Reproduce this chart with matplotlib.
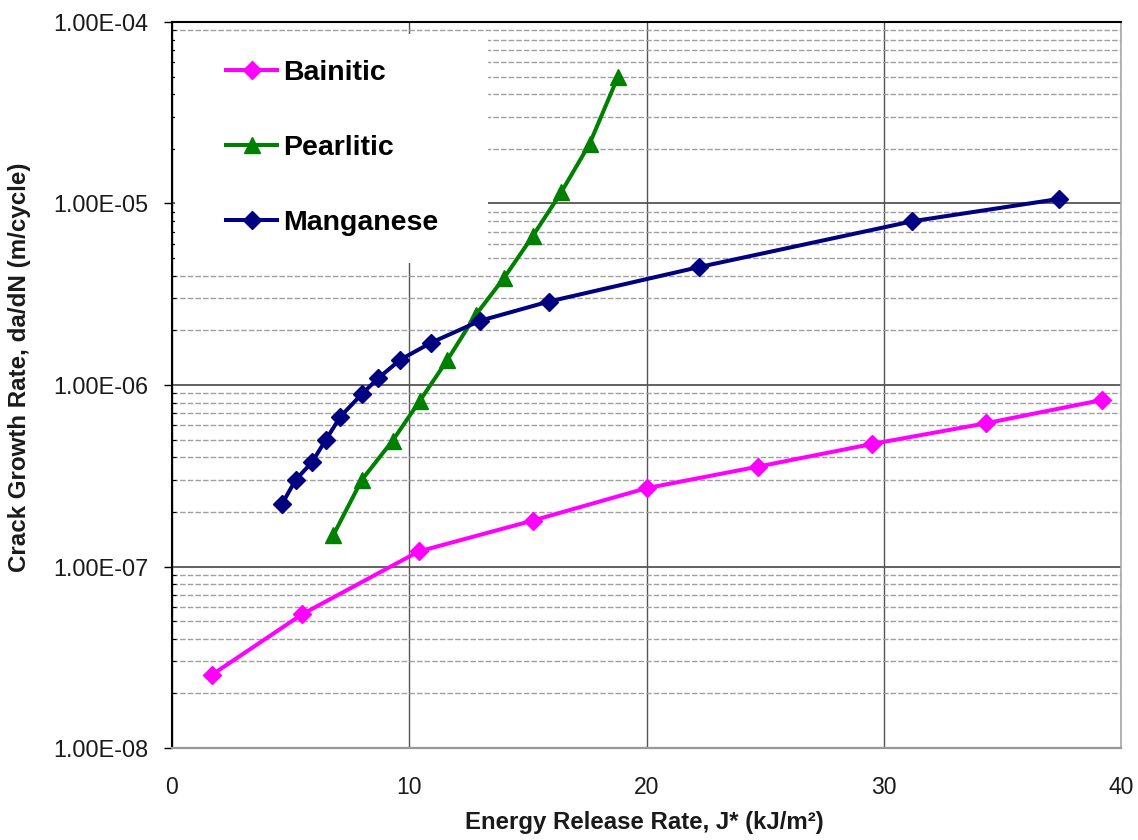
import matplotlib
matplotlib.use("Agg")
import matplotlib.pyplot as plt
from matplotlib.ticker import LogLocator, FuncFormatter, FixedLocator, NullFormatter
from matplotlib.patches import Rectangle

plt.rcParams['font.family'] = ['Liberation Sans', 'DejaVu Sans']

# Energy release rate J* (kJ/m^2) and crack growth rate da/dN (m/cycle)
bainitic_j = [1.7, 5.5, 10.4, 15.2, 20.0, 24.7, 29.5, 34.3, 39.2]
bainitic_rate = [2.54e-8, 5.47e-8, 1.21e-7, 1.79e-7, 2.70e-7, 3.55e-7, 4.73e-7, 6.15e-7, 8.27e-7]

pearlitic_j = [6.8, 8.0, 9.3, 10.45, 11.6, 12.8, 14.0, 15.2, 16.4, 17.6, 18.8]
pearlitic_rate = [1.49e-7, 3.0e-7, 4.94e-7, 8.2e-7, 1.37e-6, 2.43e-6, 3.9e-6,
                  6.6e-6, 1.15e-5, 2.13e-5, 5.0e-5]

manganese_j = [4.63, 5.21, 5.90, 6.48, 7.10, 7.99, 8.69, 9.63, 10.92, 12.99, 15.87,
               22.2, 31.2, 37.4]
manganese_rate = [2.20e-7, 3.00e-7, 3.75e-7, 4.98e-7, 6.70e-7, 8.88e-7, 1.09e-6,
                  1.38e-6, 1.71e-6, 2.26e-6, 2.88e-6, 4.46e-6, 7.98e-6, 1.06e-5]

x_ticks = [0, 10, 20, 30, 40]
x_label = "Energy Release Rate, J* (kJ/m²)"
y_label = "Crack Growth Rate, da/dN (m/cycle)"

W, H = 1138, 840
fig = plt.figure(figsize=(W / 100, H / 100), dpi=100)
ax = fig.add_axes([172 / W, 1 - 748 / H, 949 / W, 726 / H])
ax.set_yscale('log')
ax.set_xlim(0, 40)
ax.set_ylim(1e-8, 1e-4)

ax.yaxis.set_major_locator(LogLocator(base=10, numticks=10))
ax.yaxis.set_minor_locator(LogLocator(base=10, subs=range(2, 10), numticks=50))
ax.yaxis.set_major_formatter(FuncFormatter(lambda v, p: f"{v:.2E}"))
ax.yaxis.set_minor_formatter(NullFormatter())
ax.xaxis.set_major_locator(FixedLocator(x_ticks))

ax.set_axisbelow(True)
ax.grid(which='major', axis='y', color='#555555', lw=1.3)
ax.grid(which='minor', axis='y', color='#a0a0a0', lw=1.0, ls=(0, (4, 1.5)))
ax.grid(which='major', axis='x', color='#555555', lw=1.0)

ax.tick_params(axis='y', which='major', direction='out', length=5.8, width=1.0,
               pad=11.5, labelsize=16.8, labelcolor='#1a1a1a')
ax.tick_params(axis='y', which='minor', direction='in', length=3, width=0.8)
ax.tick_params(axis='x', which='major', length=0, pad=20, labelsize=16.5,
               labelcolor='#1a1a1a')

for side, col, lw in [('left', 'black', 1.5), ('top', 'black', 1.5),
                      ('right', '#aaaaaa', 1.2), ('bottom', '#999999', 1.6)]:
    ax.spines[side].set_color(col)
    ax.spines[side].set_linewidth(lw)

# white panel behind the legend
ax.add_patch(Rectangle((0.003, 0.668), 0.330, 0.3155, transform=ax.transAxes,
                       facecolor='white', edgecolor='none', zorder=1))

ax.plot(bainitic_j, bainitic_rate, color='#FF00FF', lw=2.9, marker='D', ms=9.5,
        label='Bainitic', zorder=3)
ax.plot(pearlitic_j, pearlitic_rate, color='#008000', lw=2.9, marker='^', ms=12,
        label='Pearlitic', zorder=3)
ax.plot(manganese_j, manganese_rate, color='#000080', lw=2.9, marker='D', ms=9.5,
        label='Manganese', zorder=4)

ax.legend(loc='upper left', bbox_to_anchor=(0.057, 0.948), frameon=False,
          prop={'weight': 'bold', 'size': 20.5}, handlelength=1.8,
          handletextpad=0.2, labelspacing=1.72, borderpad=0, borderaxespad=0,
          numpoints=1)

fig.text(644 / W, 1 - 822 / H, x_label, ha='center', va='center',
         fontsize=17.3, fontweight='bold', color='#1a1a1a')
fig.text(20 / W, 1 - 367 / H, y_label, ha='center', va='center', rotation=90,
         fontsize=17.4, fontweight='bold', color='#1a1a1a')

fig.savefig('out.png', dpi=100, facecolor='white')
